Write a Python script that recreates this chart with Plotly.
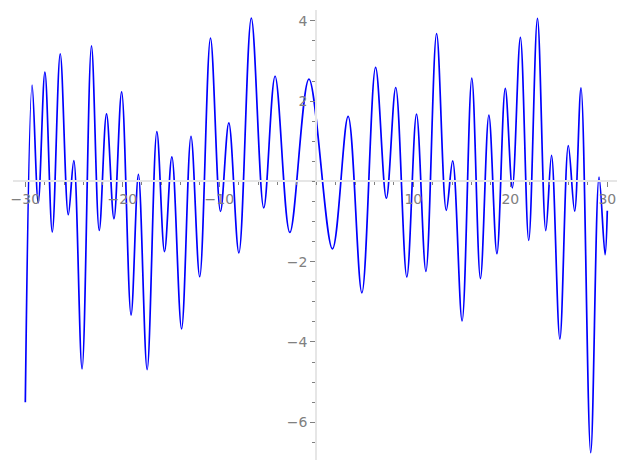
import plotly.graph_objects as go

# Curve points (turning points and ends)
x_pts = [-30.0, -29.3, -28.67, -27.98, -27.22, -26.4, -25.57, -25.0, -24.15, -23.18,
         -22.38, -21.63, -20.86, -20.07, -19.1, -18.34, -17.44, -16.44, -15.65, -14.89,
         -13.89, -12.92, -12.02, -10.91, -9.88, -9.02, -7.98, -6.7, -5.42, -4.25,
         -2.73, -0.76, 1.66, 3.28, 4.7, 6.11, 7.22, 8.19, 9.33, 10.33,
         11.3, 12.4, 13.4, 14.06, 15.03, 16.03, 16.92, 17.79, 18.62, 19.48,
         20.21, 21.04, 21.9, 22.8, 23.66, 24.25, 25.11, 25.98, 26.63, 27.29,
         28.29, 29.15, 29.77, 30.0]
y_pts = [-5.5, 2.4, -0.53, 2.72, -1.26, 3.18, -0.83, 0.52, -4.67, 3.375,
         -1.22, 1.68, -0.93, 2.23, -3.33, 0.175, -4.69, 1.24, -1.75, 0.61,
         -3.675, 1.125, -2.375, 3.57, -0.75, 1.46, -1.78, 4.07, -0.66, 2.62,
         -1.27, 2.55, -1.68, 1.62, -2.775, 2.84, -0.42, 2.34, -2.38, 1.675,
         -2.24, 3.68, -0.72, 0.51, -3.475, 2.575, -2.42, 1.65, -1.8, 2.32,
         -0.16, 3.59, -1.47, 4.06, -1.225, 0.65, -3.925, 0.89, -0.74, 2.33,
         -6.76, 0.11, -1.825, -0.73]

x_ticks = [-30, -20, -10, 10, 20, 30]
x_tick_text = ["\u221230", "\u221220", "\u221210", "10", "20", "30"]
y_ticks = [-6, -4, -2, 2, 4]
y_tick_text = ["\u22126", "\u22124", "\u22122", "2", "4"]

x_range = [-31.27, 31.0]
y_range = [-6.94, 4.27]

fig = go.Figure()
fig.add_trace(go.Scatter(x=x_pts, y=y_pts, mode="lines",
                         line=dict(color="#0000ff", width=1.7, shape="spline", smoothing=1.0),
                         hoverinfo="skip"))

axis_grey = "#808080"
font = dict(family="DejaVu Sans", size=14, color=axis_grey)
fig.update_layout(
    width=619, height=462,
    margin=dict(l=5, r=10, t=2, b=10, autoexpand=False),
    paper_bgcolor="white", plot_bgcolor="white",
    showlegend=False,
    xaxis=dict(range=x_range, showgrid=False, zeroline=False, automargin=False,
               showline=True, linecolor="#e6e6e6", linewidth=2,
               anchor="free", position=(0 - y_range[0]) / (y_range[1] - y_range[0]),
               tickmode="array", tickvals=x_ticks, ticktext=x_tick_text,
               ticks="outside", ticklen=5, tickcolor=axis_grey, tickwidth=1,
               tickfont=font,
               minor=dict(tickmode="linear", tick0=0, dtick=2, ticks="outside",
                          ticklen=3, tickcolor=axis_grey, showgrid=False)),
    yaxis=dict(range=y_range, showgrid=False, zeroline=False, automargin=False,
               showline=True, linecolor="#e6e6e6", linewidth=2,
               anchor="free", position=(0 - x_range[0]) / (x_range[1] - x_range[0]),
               tickmode="array", tickvals=y_ticks, ticktext=y_tick_text,
               ticks="outside", ticklen=5, tickcolor=axis_grey, tickwidth=1,
               tickfont=font,
               minor=dict(tickmode="linear", tick0=0, dtick=0.5, ticks="outside",
                          ticklen=3, tickcolor=axis_grey, showgrid=False)),
)
fig.write_html("out.html")
